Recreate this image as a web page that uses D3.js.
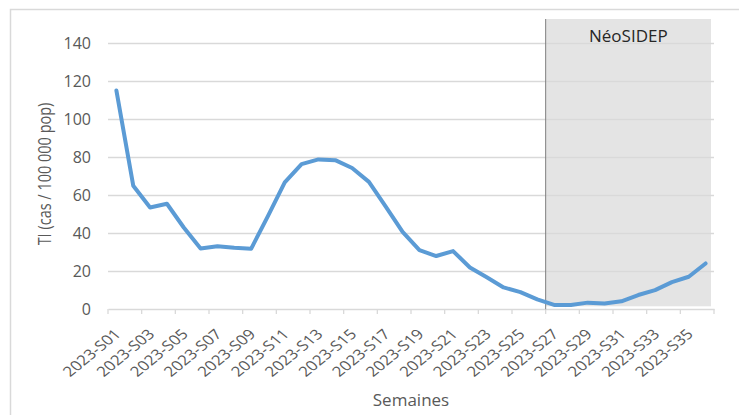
<!DOCTYPE html>
<html>
<head>
<meta charset="utf-8">
<script src="https://cdn.jsdelivr.net/npm/d3@7"></script>
<style>
  body { margin: 0; background: #fff; }
  svg text { font-family: "Open Sans", sans-serif; fill: #595959; }
</style>
</head>
<body>
<div id="chart"></div>
<script>
// weeks S01..S36
var weeks = d3.range(1, 37).map(function (w) { return "2023-S" + (w < 10 ? "0" + w : w); });
var ti = [115, 65, 53.5, 55.5, 43, 32, 33.2, 32.3, 31.8, 49, 66.7, 76.3, 78.8, 78.4, 74.3, 67,
          54, 40.7, 31.1, 28, 30.6, 22, 16.8, 11.5, 9, 5.2, 2.3, 2.3, 3.5, 3.1, 4.2, 7.5,
          10.1, 14.3, 17.1, 24.1];
var yTicks = [0, 20, 40, 60, 80, 100, 120, 140];
var neoStart = "2023-S27", neoLabel = "NéoSIDEP";

var W = 739, H = 415;
var m = {left: 108, right: 25, top: 43, bottom: 105};

var svg = d3.select('#chart').append('svg')
    .attr('width', W).attr('height', H);

// chart border (cropped on right/bottom)
svg.append('path')
    .attr('d', 'M10.5,' + (H + 2) + 'V9.5H' + (W + 2))
    .attr('fill', 'none').attr('stroke', '#d9d9d9').attr('stroke-width', 1.5);

var x = d3.scaleBand().domain(weeks).range([m.left, W - m.right]);
var y = d3.scaleLinear().domain([0, 140]).range([H - m.bottom - 0.7, m.top]);

// shaded NéoSIDEP period
var x0 = x(neoStart), x1 = x(weeks[weeks.length - 1]) + x.bandwidth() * 0.82;
svg.append('rect')
    .attr('x', x0).attr('y', 19)
    .attr('width', x1 - x0).attr('height', y(0) - 19 - 3)
    .attr('fill', '#e4e4e4');

// gridlines
svg.append('g').selectAll('line')
    .data(yTicks.filter(function (d) { return d > 0; }))
    .enter().append('line')
    .attr('x1', m.left).attr('x2', W - m.right)
    .attr('y1', function (d) { return Math.round(y(d)) + 0.5; })
    .attr('y2', function (d) { return Math.round(y(d)) + 0.5; })
    .attr('stroke', '#d9d9d9').attr('stroke-width', 1.3);

// y labels
svg.append('g').selectAll('text')
    .data(yTicks).enter().append('text')
    .attr('x', 91).attr('y', function (d) { return y(d) + 6; })
    .attr('text-anchor', 'end').style('font-size', '16px')
    .text(function (d) { return d; });

// x axis
var xAxis = d3.axisBottom(x)
    .tickValues(weeks.filter(function (d, i) { return i % 2 === 0; }))
    .tickSize(0).tickFormat('');
svg.append('g')
    .attr('transform', 'translate(0,' + Math.round(y(0)) + ')')
    .call(xAxis)
    .call(function (g) { g.select('.domain').attr('stroke', '#d9d9d9').attr('stroke-width', 1.3); });

// tick marks at every 2nd category boundary
var bounds = d3.range(0, weeks.length + 1, 2);
svg.append('g').selectAll('line').data(bounds).enter().append('line')
    .attr('x1', function (i) { return m.left + i * x.step(); })
    .attr('x2', function (i) { return m.left + i * x.step(); })
    .attr('y1', Math.round(y(0))).attr('y2', Math.round(y(0)) + 5)
    .attr('stroke', '#d9d9d9').attr('stroke-width', 1.3);

// rotated category labels (reference picture is a bit stretched sideways)
svg.append('g').selectAll('text')
    .data(weeks.filter(function (d, i) { return i % 2 === 0; }))
    .enter().append('text')
    .attr('text-anchor', 'end')
    .style('font-size', '14px')
    .attr('transform', function (d) {
        return 'translate(' + (x(d) + x.bandwidth() / 2 + 5.5) + ',' + 335 + ') scale(1.22,1) rotate(-45)';
    })
    .text(function (d) { return d; });

// NéoSIDEP divider
svg.append('line')
    .attr('x1', x0).attr('x2', x0)
    .attr('y1', 19).attr('y2', y(0))
    .attr('stroke', '#7f7f7f').attr('stroke-width', 1);

svg.append('text')
    .attr('x', (x0 + x1) / 2).attr('y', 42)
    .attr('text-anchor', 'middle')
    .style('font-size', '17px').style('fill', '#262626')
    .text(neoLabel);

// line
var line = d3.line()
    .x(function (d, i) { return x(weeks[i]) + x.bandwidth() / 2; })
    .y(function (d) { return y(d); });
svg.append('path')
    .datum(ti)
    .attr('d', line)
    .attr('fill', 'none')
    .attr('stroke', '#5b9bd5')
    .attr('stroke-width', 4)
    .attr('stroke-linejoin', 'round')
    .attr('stroke-linecap', 'round');

// axis titles
svg.append('text')
    .attr('x', (m.left + W - m.right) / 2).attr('y', 406)
    .attr('text-anchor', 'middle').style('font-size', '17px')
    .text('Semaines');

svg.append('text')
    .attr('transform', 'translate(51,174) scale(1.2,1) rotate(-90)')
    .attr('text-anchor', 'middle').style('font-size', '14.5px')
    .text('TI (cas / 100 000 pop)');
</script>
</body>
</html>
